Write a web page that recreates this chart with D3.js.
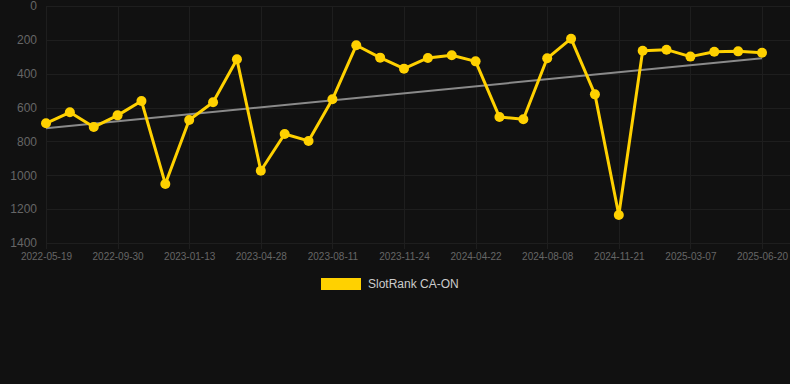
<!DOCTYPE html>
<html>
<head>
<meta charset="utf-8">
<script src="https://cdn.jsdelivr.net/npm/d3@7"></script>
<style>
  html, body { margin: 0; padding: 0; background: #111111; }
  svg { display: block; font-family: "Liberation Sans", Arial, sans-serif; }
</style>
</head>
<body>
<script>
// category dates, every third one is labelled on the axis
const dates = [
  "2022-05-19", "2022-06-30", "2022-08-18", "2022-09-30", "2022-11-10", "2022-12-08",
  "2023-01-13", "2023-02-24", "2023-03-31", "2023-04-28", "2023-05-30", "2023-07-07",
  "2023-08-11", "2023-09-14", "2023-10-19", "2023-11-24", "2024-01-05", "2024-03-01",
  "2024-04-22", "2024-05-30", "2024-07-04", "2024-08-08", "2024-09-12", "2024-10-17",
  "2024-11-21", "2024-12-19", "2025-01-30", "2025-03-07", "2025-04-10", "2025-05-15",
  "2025-06-20"
];
const ranks = [
  693, 628, 715, 646, 561, 1051,
  673, 569, 315, 973, 756, 797,
  551, 232, 305, 370, 307, 291,
  327, 656, 669, 309, 193, 522,
  1235, 264, 258, 299, 270, 268,
  276
];
const yTicks = [0, 200, 400, 600, 800, 1000, 1200, 1400];
const seriesName = "SlotRank CA-ON";

const width = 790;
const height = 384;
const margin = {top: 6, right: 28, bottom: 141, left: 46};

const svg = d3.select("body").append("svg")
  .attr("width", width)
  .attr("height", height);

const xScale = d3.scalePoint()
  .domain(dates)
  .range([margin.left, width - margin.right]);

const yScale = d3.scaleLinear()
  .domain([0, 1400])
  .range([margin.top, height - margin.bottom]);

const shown = dates.filter((d, i) => i % 3 === 0);

// grid
const grid = svg.append("g").attr("stroke", "#1e1e1e").attr("stroke-width", 1);
grid.selectAll("line.h")
  .data(yTicks)
  .join("line")
    .attr("class", "h")
    .attr("x1", margin.left)
    .attr("x2", width)
    .attr("y1", d => Math.round(yScale(d)) + 0.5)
    .attr("y2", d => Math.round(yScale(d)) + 0.5);
grid.selectAll("line.v")
  .data(shown)
  .join("line")
    .attr("class", "v")
    .attr("x1", d => Math.round(xScale(d)) + 0.5)
    .attr("x2", d => Math.round(xScale(d)) + 0.5)
    .attr("y1", margin.top)
    .attr("y2", height - margin.bottom + 6);

// axes
const yAxis = g => g
  .attr("transform", `translate(${margin.left - 9},0)`)
  .call(d3.axisLeft(yScale).tickValues(yTicks).tickFormat(d3.format("d")).tickSize(0).tickPadding(0))
  .call(g => g.select(".domain").remove())
  .call(g => g.selectAll("text")
    .attr("fill", "#666")
    .attr("font-size", 12)
    .attr("font-family", "Liberation Sans, Arial, sans-serif"));

const xAxis = g => g
  .attr("transform", `translate(0,${height - margin.bottom + 10})`)
  .call(d3.axisBottom(xScale).tickValues(shown).tickSize(0).tickPadding(0))
  .call(g => g.select(".domain").remove())
  .call(g => g.selectAll("text")
    .attr("fill", "#666")
    .attr("font-size", 10)
    .attr("font-family", "Liberation Sans, Arial, sans-serif"));

svg.append("g").call(yAxis);
svg.append("g").call(xAxis);

// trend line (least squares over the series)
const n = ranks.length;
const mx = d3.mean(ranks, (d, i) => i);
const my = d3.mean(ranks);
const slope = d3.sum(ranks, (d, i) => (i - mx) * (d - my)) / d3.sum(ranks, (d, i) => (i - mx) * (i - mx));
const icpt = my - slope * mx;

svg.append("line")
  .attr("x1", xScale(dates[0]))
  .attr("x2", xScale(dates[n - 1]))
  .attr("y1", yScale(icpt))
  .attr("y2", yScale(icpt + slope * (n - 1)))
  .attr("stroke", "#8a8a8a")
  .attr("stroke-width", 2);

// series
const line = d3.line()
  .x((d, i) => xScale(dates[i]))
  .y(d => yScale(d));

svg.append("path")
  .datum(ranks)
  .attr("fill", "none")
  .attr("stroke", "#ffd100")
  .attr("stroke-width", 3)
  .attr("stroke-linejoin", "round")
  .attr("d", line);

svg.append("g")
    .attr("fill", "#ffd100")
  .selectAll("circle")
  .data(ranks)
  .join("circle")
    .attr("cx", (d, i) => xScale(dates[i]))
    .attr("cy", d => yScale(d))
    .attr("r", 5);

// legend
const legend = svg.append("g").attr("transform", "translate(321,278)");
legend.append("rect")
  .attr("width", 40)
  .attr("height", 12)
  .attr("fill", "#ffd100");
legend.append("text")
  .attr("x", 47)
  .attr("y", 6)
  .attr("dy", "0.35em")
  .attr("fill", "#cccccc")
  .attr("font-size", 12)
  .text(seriesName);
</script>
</body>
</html>
